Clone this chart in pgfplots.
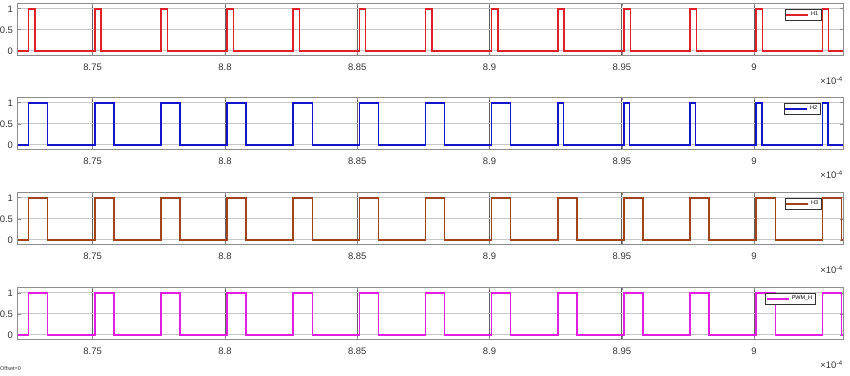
\documentclass[border=0pt]{standalone}
\usepackage{pgfplots}
\pgfplotsset{compat=1.18}
\usepackage{fontspec}
\setmainfont{Liberation Sans}
\definecolor{cH1}{RGB}{222,32,40}
\definecolor{cH2}{RGB}{20,20,200}
\definecolor{cH3}{RGB}{160,68,28}
\definecolor{cPW}{RGB}{225,30,225}
\pgfplotsset{
  panel/.style={
    scale only axis, clip mode=individual,
    width=825.5bp, height=52bp,
    xmin=8.7216, xmax=9.0336,
    ymin=-0.107, ymax=1.131,
    xtick={8.75,8.8,8.85,8.9,8.95,9},
    xticklabels={8.75,8.8,8.85,8.9,8.95,9},
    ytick={0,0.5,1},
    yticklabels={0,0.5,1},
    scaled x ticks=false,
    /pgf/number format/assume math mode=true,
    tick label style={font=\fontsize{9.5}{11}\selectfont, text=black!80},
    xticklabel style={yshift=-5bp},
    yticklabel style={xshift=-1bp},
    axis line style={draw=black!45, line width=0.8bp},
    tick style={draw=black!45, line width=0.6bp},
    major tick length=3bp,
    xmajorgrids, ymajorgrids,
    x grid style={draw=black!62, line width=0.7bp},
    y grid style={draw=black!22, line width=0.7bp},
    legend style={at={(axis description cs:1,1)}, anchor=north east,
      yshift=-6bp, font=\fontsize{5.5}{6}\selectfont, inner sep=0.6bp,
      draw=black!80, line width=0.5bp, fill=white,
      legend cell align=left},
    legend image code/.code={\draw[#1, line width=1.5bp] (0bp,0bp) -- (22bp,0bp);},
    every axis plot/.append style={line width=1.5bp, line join=miter},
  }
}
\begin{document}
\begin{tikzpicture}
\useasboundingbox (0,0) rectangle (850bp,376bp);
% H1
\begin{axis}[panel, at={(17.5bp,372.7bp)}, anchor=north west,
  legend style={xshift=-22bp}]
\addplot[cH1] coordinates {
(8.7216,0)
(8.7258,0)(8.7258,1)(8.7282,1)(8.7282,0)
(8.7508,0)(8.7508,1)(8.7532,1)(8.7532,0)
(8.7758,0)(8.7758,1)(8.7782,1)(8.7782,0)
(8.8008,0)(8.8008,1)(8.8032,1)(8.8032,0)
(8.8258,0)(8.8258,1)(8.8282,1)(8.8282,0)
(8.8508,0)(8.8508,1)(8.8532,1)(8.8532,0)
(8.8758,0)(8.8758,1)(8.8782,1)(8.8782,0)
(8.9008,0)(8.9008,1)(8.9032,1)(8.9032,0)
(8.9258,0)(8.9258,1)(8.9282,1)(8.9282,0)
(8.9508,0)(8.9508,1)(8.9532,1)(8.9532,0)
(8.9758,0)(8.9758,1)(8.9782,1)(8.9782,0)
(9.0008,0)(9.0008,1)(9.0032,1)(9.0032,0)
(9.0258,0)(9.0258,1)(9.0282,1)(9.0282,0)
(9.0336,0)
};
\addlegendentry{H1}
\node[anchor=north east, font=\fontsize{9.5}{11}\selectfont, text=black!80, inner sep=0pt]
  at (rel axis cs:1,0) [yshift=-21bp] {×10\textsuperscript{-4}};
\end{axis}
% H2
\begin{axis}[panel, at={(17.5bp,278.7bp)}, anchor=north west,
  legend style={xshift=-23bp}]
\addplot[cH2] coordinates {
(8.7216,0)
(8.7258,0)(8.7258,1)(8.7330,1)(8.7330,0)
(8.7508,0)(8.7508,1)(8.7580,1)(8.7580,0)
(8.7758,0)(8.7758,1)(8.7830,1)(8.7830,0)
(8.8008,0)(8.8008,1)(8.8080,1)(8.8080,0)
(8.8258,0)(8.8258,1)(8.8330,1)(8.8330,0)
(8.8508,0)(8.8508,1)(8.8580,1)(8.8580,0)
(8.8758,0)(8.8758,1)(8.8830,1)(8.8830,0)
(8.9008,0)(8.9008,1)(8.9080,1)(8.9080,0)
(8.9258,0)(8.9258,1)(8.9279,1)(8.9279,0)
(8.9508,0)(8.9508,1)(8.9529,1)(8.9529,0)
(8.9758,0)(8.9758,1)(8.9779,1)(8.9779,0)
(9.0008,0)(9.0008,1)(9.0029,1)(9.0029,0)
(9.0258,0)(9.0258,1)(9.0279,1)(9.0279,0)
(9.0336,0)
};
\addlegendentry{H2}
\node[anchor=north east, font=\fontsize{9.5}{11}\selectfont, text=black!80, inner sep=0pt]
  at (rel axis cs:1,0) [yshift=-21bp] {×10\textsuperscript{-4}};
\end{axis}
% H3
\begin{axis}[panel, at={(17.5bp,183.7bp)}, anchor=north west,
  legend style={xshift=-22bp}]
\addplot[cH3] coordinates {
(8.7216,0)
(8.7258,0)(8.7258,1)(8.7330,1)(8.7330,0)
(8.7508,0)(8.7508,1)(8.7580,1)(8.7580,0)
(8.7758,0)(8.7758,1)(8.7830,1)(8.7830,0)
(8.8008,0)(8.8008,1)(8.8080,1)(8.8080,0)
(8.8258,0)(8.8258,1)(8.8330,1)(8.8330,0)
(8.8508,0)(8.8508,1)(8.8580,1)(8.8580,0)
(8.8758,0)(8.8758,1)(8.8830,1)(8.8830,0)
(8.9008,0)(8.9008,1)(8.9080,1)(8.9080,0)
(8.9258,0)(8.9258,1)(8.9330,1)(8.9330,0)
(8.9508,0)(8.9508,1)(8.9580,1)(8.9580,0)
(8.9758,0)(8.9758,1)(8.9830,1)(8.9830,0)
(9.0008,0)(9.0008,1)(9.0080,1)(9.0080,0)
(9.0258,0)(9.0258,1)(9.0330,1)(9.0330,0)
(9.0336,0)
};
\addlegendentry{H3}
\node[anchor=north east, font=\fontsize{9.5}{11}\selectfont, text=black!80, inner sep=0pt]
  at (rel axis cs:1,0) [yshift=-21bp] {×10\textsuperscript{-4}};
\end{axis}
% PWM_H
\begin{axis}[panel, at={(17.5bp,88.7bp)}, anchor=north west,
  legend style={xshift=-28bp}]
\addplot[cPW] coordinates {
(8.7216,0)
(8.7258,0)(8.7258,1)(8.7330,1)(8.7330,0)
(8.7508,0)(8.7508,1)(8.7580,1)(8.7580,0)
(8.7758,0)(8.7758,1)(8.7830,1)(8.7830,0)
(8.8008,0)(8.8008,1)(8.8080,1)(8.8080,0)
(8.8258,0)(8.8258,1)(8.8330,1)(8.8330,0)
(8.8508,0)(8.8508,1)(8.8580,1)(8.8580,0)
(8.8758,0)(8.8758,1)(8.8830,1)(8.8830,0)
(8.9008,0)(8.9008,1)(8.9080,1)(8.9080,0)
(8.9258,0)(8.9258,1)(8.9330,1)(8.9330,0)
(8.9508,0)(8.9508,1)(8.9580,1)(8.9580,0)
(8.9758,0)(8.9758,1)(8.9830,1)(8.9830,0)
(9.0008,0)(9.0008,1)(9.0080,1)(9.0080,0)
(9.0258,0)(9.0258,1)(9.0330,1)(9.0330,0)
(9.0336,0)
};
\addlegendentry{PWM\_H}
\node[anchor=north east, font=\fontsize{9.5}{11}\selectfont, text=black!80, inner sep=0pt]
  at (rel axis cs:1,0) [yshift=-21bp] {×10\textsuperscript{-4}};
\end{axis}
\node[anchor=west, inner sep=0pt, font=\fontsize{5.5}{6}\selectfont, text=black!80] at (0bp,7bp) {Offset=0};
\end{tikzpicture}
\end{document}
